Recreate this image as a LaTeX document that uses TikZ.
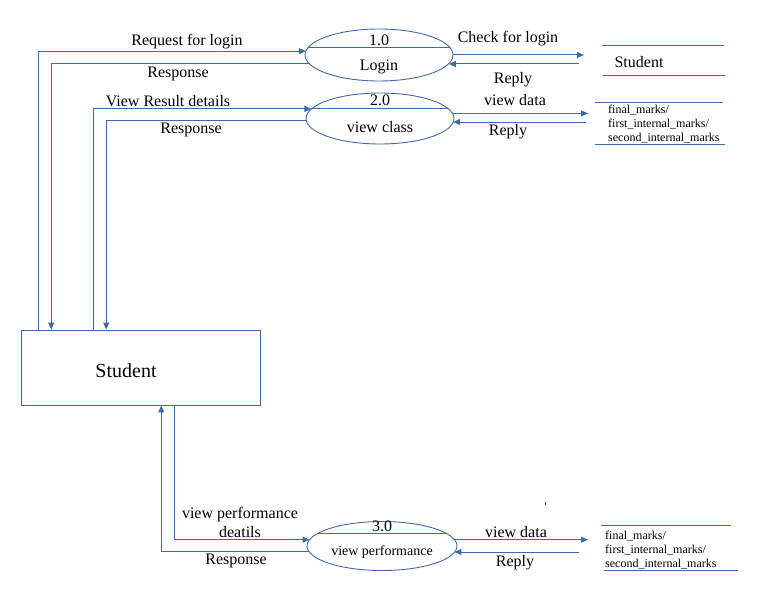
\documentclass[tikz,border=0pt]{standalone}
\usepackage{fontspec}
\setmainfont{Liberation Serif}
\usepackage{tikz}
\usetikzlibrary{arrows.meta,shapes.geometric,calc}
\definecolor{DFDblue}{HTML}{4169AA}
\tikzset{
  box/.style={draw=DFDblue,line width=0.9pt,minimum width=239pt,minimum height=75pt},
  proc/.style={draw=DFDblue,ellipse,line width=0.9pt,inner sep=0pt,outer sep=0pt},
  flow/.style={DFDblue,line width=1pt},
  arr/.style={flow,-{Triangle[length=7pt,width=6pt]}},
  lbl/.style={font=\fontsize{16}{19}\selectfont,inner sep=0pt},
  storetxt/.style={font=\fontsize{12}{14}\selectfont,align=left,anchor=west,inner sep=0pt},
}

\begin{document}
\begin{tikzpicture}[x=1pt,y=-1pt]
\useasboundingbox (0,0) rectangle (770,599);
% processes
\node[proc,minimum width=148pt,minimum height=52pt] (p1) at (379,55) {};
\node[proc,minimum width=148pt,minimum height=51pt] (p2) at (380,118.5) {};
\node[proc,minimum width=150pt,minimum height=49pt] (p3) at (382,546) {};
\draw[flow] ($(p1.center)+(-71,-7)$) -- ($(p1.center)+(71,-7)$);
\draw[flow] ($(p2.center)+(-68,-10)$) -- ($(p2.center)+(68,-10)$);
\draw[flow] ($(p3.center)+(-64,-13)$) -- ($(p3.center)+(64,-13)$);
\node[lbl] (p1id) at (379,40) {1.0};
\node[lbl] (p1name) at (379,67) {Login};
\node[lbl] (p2id) at (380,100) {2.0};
\node[lbl] (p2name) at (380,127) {view class};
\node[lbl] (p3id) at (382,526.5) {3.0};
\node[lbl,font=\fontsize{14}{17}\selectfont] (p3name) at (382,552.5) {view performance};
% external entity
\node[box] (stud) at (141.2,367.5) {};
\node[lbl,font=\fontsize{20}{24}\selectfont] (studname) at (126,371) {Student};
% data stores
\draw[flow] (602,46) -- (724,46);
\draw[flow] (603,76) -- (725,76);
\node[lbl] (ds1) at (639,62) {Student};
\draw[flow] (595,102.7) -- (723,102.7);
\draw[flow] (595,144) -- (725,144);
\node[storetxt] (ds2) at (608,124) {final\_marks/\\first\_internal\_marks/\\second\_internal\_marks};
\draw[flow] (601,525.7) -- (731,525.7);
\draw[flow] (604,570) -- (738,570);
\node[storetxt] (ds3) at (605,550) {final\_marks/\\first\_internal\_marks/\\second\_internal\_marks};
\draw[DFDblue!60!black,line width=0.6pt] (545.5,501.5) -- (545.5,505);
% flows left
\draw[arr] ([xshift=17.6pt]stud.north west) |- (p1.177);
\draw[arr] (p1.187) -| ([xshift=30pt]stud.north west);
\draw[arr] ([xshift=72pt]stud.north west) |- (p2.172);
\draw[arr] ([yshift=-2pt]p2.west) -| ([xshift=85pt]stud.north west);
\draw[arr] ([xshift=153pt]stud.south west) |- (p3.175);
\draw[arr] (p3.184) -| ([xshift=140pt]stud.south west);
% flows right
\coordinate (c1) at (584,55);
\coordinate (r1) at (579,64);
\coordinate (c2) at (588,114);
\coordinate (r2) at (586,122);
\coordinate (c3) at (588,540);
\coordinate (r3) at (579,552);
\draw[arr] (p1.east) -- (c1);
\draw[arr] (r1) -- (r1 -| p1.-7);
\draw[arr] (p2.4) -- (p2.4 -| c2);
\draw[arr] (r2) -- (r2 -| p2.-3);
\draw[arr] (p3.5) -- (p3.5 -| c3);
\draw[arr] (r3) -- (r3 -| p3.-5);
% labels
\node[lbl] (l1) at (187,42) {Request for login};
\node[lbl] (l2) at (178,74) {Response};
\node[lbl] (l3) at (168,101) {View Result details};
\node[lbl] (l4) at (191,130) {Response};
\node[lbl,align=center] (l5) at (240,522.5) {view performance\\deatils};
\node[lbl] (l6) at (236,561) {Response};
\node[lbl] (l7) at (508,39) {Check for login};
\node[lbl] (l8) at (513,80) {Reply};
\node[lbl] (l9) at (515,100) {view data};
\node[lbl] (l10) at (508,132) {Reply};
\node[lbl] (l11) at (516,532) {view data};
\node[lbl] (l12) at (515,563) {Reply};
\end{tikzpicture}
\end{document}
